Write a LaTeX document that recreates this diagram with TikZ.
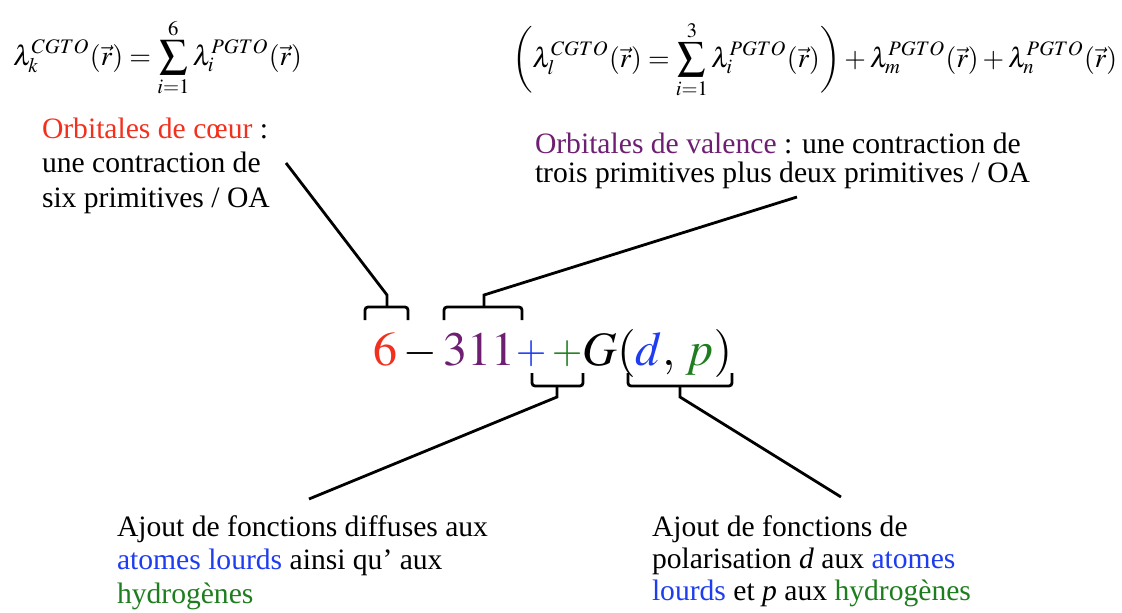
\documentclass[tikz,border=0pt]{standalone}
\usepackage{mathptmx}
\usepackage{graphicx}
\usepackage[no-math]{fontspec}
\setmainfont{Liberation Serif}
\newfontfamily\tnr{Liberation Serif}
\definecolor{cred}{HTML}{F2301E}
\definecolor{cpur}{HTML}{6E1F72}
\definecolor{cblu}{HTML}{1E3CF0}
\definecolor{cgrn}{HTML}{1E7D1E}
\newcommand{\smplus}{\raisebox{2pt}{\scalebox{0.82}{$+$}}}
\newcommand{\smminus}{\scalebox{0.9}[1]{$-$}}
\tikzset{
  txt/.style={anchor=base west, inner sep=0pt, outer sep=0pt, align=left, font=\tnr\fontsize{29.6}{34.5}\selectfont},
  conn/.style={line width=2.8pt, line join=miter},
  brk/.style={line width=2.8pt, rounded corners=3pt},
  eq/.style={anchor=base west, inner sep=0pt, outer sep=0pt}
}
\begin{document}
\begin{tikzpicture}[x=1pt,y=-1pt]
\useasboundingbox (0,0) rectangle (1122,613);
% equations
\node[eq] (eqA) at (13,65) {\resizebox{289pt}{!}{$\displaystyle \lambda_k^{CGTO}(\vec r)=\sum_{i=1}^{6}\lambda_i^{PGTO}(\vec r)$}};
\node[eq] (eqB) at (512,67) {\resizebox{605pt}{!}{$\displaystyle \biggl(\lambda_l^{CGTO}(\vec r)=\sum_{i=1}^{3}\lambda_i^{PGTO}(\vec r)\biggr)+\lambda_m^{PGTO}(\vec r)+\lambda_n^{PGTO}(\vec r)$}};
% texts (base = baseline of last line)
\node[txt] (core) at (42,207) {\textcolor{cred}{Orbitales de cœur} :\\une contraction de\\six primitives / OA};
\node[txt, font=\tnr\fontsize{29.6}{29}\selectfont] (val) at (535,182) {\textcolor{cpur}{Orbitales de valence} : une contraction de\\trois primitives plus deux primitives / OA};
\node[txt, font=\tnr\fontsize{29.6}{33.5}\selectfont] (diff) at (117,603) {Ajout de fonctions diffuses aux\\\textcolor{cblu}{atomes lourds} ainsi qu’ aux\\\textcolor{cgrn}{hydrogènes}};
\node[txt, font=\tnr\fontsize{29.6}{32}\selectfont] (pol) at (652,600) {Ajout de fonctions de\\polarisation \textit{d} aux \textcolor{cblu}{atomes}\\\textcolor{cblu}{lourds} et \textit{p} aux \textcolor{cgrn}{hydrogènes}};
% central formula
\node[eq] (basis) at (373,365) {\fontsize{48}{55}\selectfont$\color{cred}6\color{black}\mathbin{\smminus}\color{cpur}311\color{cblu}\smplus\mkern2mu\color{cgrn}\smplus\color{black}G(\color{cblu}d\color{black},\mkern2mu\color{cgrn}p\color{black})$};
% bracket stems and free ends
\coordinate (s6) at (387,295);
\coordinate (s311) at (484,295);
\coordinate (spp) at (557,397);
\coordinate (sdp) at (680,397);
\coordinate (e6) at (286,163);
\coordinate (e311) at (797,197);
\coordinate (epp) at (309,499);
\coordinate (edp) at (841,497);
% brackets
\draw[brk] (365,320) |- (408,307) -- (408,320);
\draw[brk] (444,320) |- (522,307) -- (522,320);
\draw[brk] (532,373) |- (583,386) -- (583,373);
\draw[brk] (628,373) |- (732,386) -- (732,373);
% connectors
\draw[conn] (387,307) -- (s6) -- (e6);
\draw[conn] (484,307) -- (s311) -- (e311);
\draw[conn] (557,386) -- (spp) -- (epp);
\draw[conn] (680,386) -- (sdp) -- (edp);
\end{tikzpicture}
\end{document}
